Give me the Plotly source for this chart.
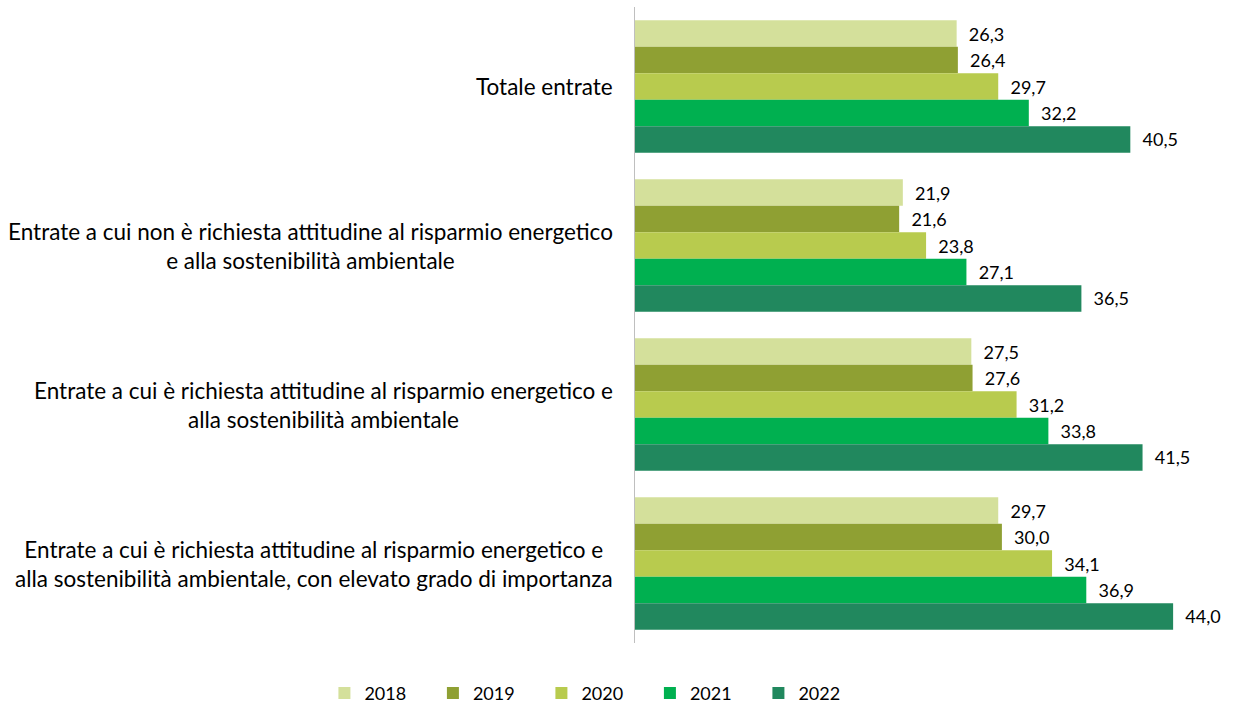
import plotly.graph_objects as go

categories = [
    "Totale entrate",
    "Entrate a cui non è richiesta attitudine al risparmio energetico<br>e alla sostenibilità ambientale",
    "Entrate a cui è richiesta attitudine al risparmio energetico e<br>alla sostenibilità ambientale",
    "Entrate a cui è richiesta attitudine al risparmio energetico e<br>alla sostenibilità ambientale, con elevato grado di importanza",
]
years = ["2018", "2019", "2020", "2021", "2022"]
v2018 = [26.3, 21.9, 27.5, 29.7]
v2019 = [26.4, 21.6, 27.6, 30.0]
v2020 = [29.7, 23.8, 31.2, 34.1]
v2021 = [32.2, 27.1, 33.8, 36.9]
v2022 = [40.5, 36.5, 41.5, 44.0]
series = [v2018, v2019, v2020, v2021, v2022]
colors = ["#D4E09B", "#8FA033", "#B8CB4E", "#00B050", "#21885E"]

FONT = "Lato"
fig = go.Figure()
for yr, vals, col in zip(years, series, colors):
    fig.add_trace(go.Bar(
        y=categories, x=vals, name=yr, orientation="h",
        marker=dict(color=col, line=dict(width=0)),
        texttemplate="  %{x:.1f}", textposition="outside",
        textfont=dict(family=FONT, size=18, color="#000000"),
        cliponaxis=False,
    ))

for c in categories:
    fig.add_annotation(
        x=0, xref="paper", y=c, yref="y", text=c, showarrow=False,
        xanchor="right", align="center", xshift=-20,
        font=dict(family=FONT, size=22.5, color="#000000"),
    )

fig.update_layout(
    width=1241, height=708,
    margin=dict(l=635, r=0, t=7, b=65, autoexpand=False),
    paper_bgcolor="white", plot_bgcolor="white",
    barmode="group", bargap=0.167, bargroupgap=0,
    separators=",.",
    showlegend=True,
    legend=dict(orientation="h", x=-0.0645, xanchor="center",
                y=-0.079, yanchor="middle",
                font=dict(family=FONT, size=18, color="#000000"),
                entrywidth=63.5, entrywidthmode="pixels",
                traceorder="normal"),
    font=dict(family=FONT, size=18, color="#000000"),
)
fig.update_xaxes(range=[0, 49.55], showgrid=False, showticklabels=False, zeroline=False, showline=False)
fig.update_yaxes(autorange="reversed", showticklabels=False, showgrid=False,
                 showline=True, linecolor="#BFBFBF", linewidth=1, ticks="")

fig.write_html("out.html", post_script="document.body.style.margin='0';",
               config={"displayModeBar": False})
